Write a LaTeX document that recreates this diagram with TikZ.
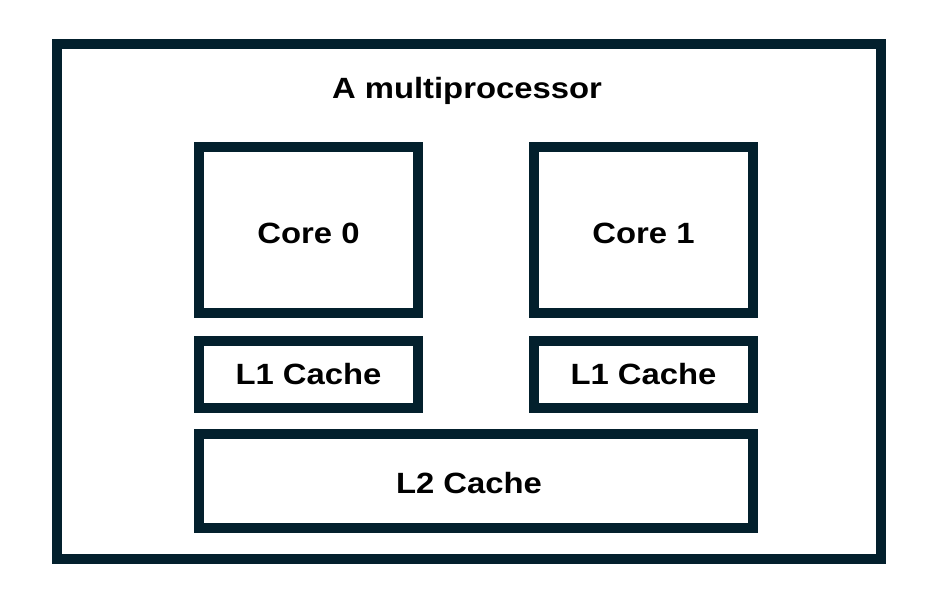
\documentclass[tikz,border=0pt]{standalone}
\usepackage{fontspec}
\setmainfont{Liberation Sans}[FakeStretch=1.12]
\definecolor{navy}{RGB}{3,32,45}
\begin{document}
\begin{tikzpicture}[x=1pt,y=-1pt,
  box/.style={draw=navy,line width=10pt,rectangle,inner sep=0pt,outer sep=0pt,
    font=\fontsize{29.3}{32}\selectfont\bfseries,text=black},
  lbl/.style={inner sep=0pt,font=\fontsize{29.3}{32}\selectfont\bfseries,text=black}]
\useasboundingbox[fill=white] (0,0) rectangle (942,610);
\node[box,minimum width=824pt,minimum height=515pt] (mp) at (469,301.5) {};
\node[lbl,anchor=base] (title) at (467,98.3) {A multiprocessor};
\node[box,minimum width=219pt,minimum height=166pt] (c0) at (308.5,230) {};
\node[lbl,anchor=base] (c0t) at (308.5,243.3) {Core 0};
\node[box,minimum width=219pt,minimum height=166pt] (c1) at (643.5,230) {};
\node[lbl,anchor=base] (c1t) at (643.5,243.3) {Core 1};
\node[box,minimum width=219pt,minimum height=67pt] (l10) at (308.5,374.5) {L1 Cache};
\node[box,minimum width=219pt,minimum height=67pt] (l11) at (643.5,374.5) {L1 Cache};
\node[box,minimum width=554pt,minimum height=94pt] (l2) at (476,481) {};
\node[lbl,anchor=base] (l2t) at (469,493.3) {L2 Cache};
\end{tikzpicture}
\end{document}
